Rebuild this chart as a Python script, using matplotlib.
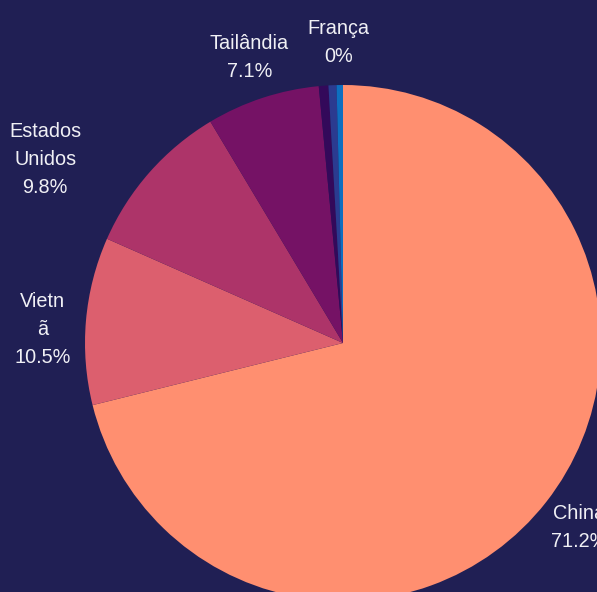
import numpy as np
import matplotlib.pyplot as plt

# fatias no sentido horário a partir do topo
paises = ['China', 'Vietnã', 'Estados Unidos', 'Tailândia', 'Outro1', 'Outro2', 'França']
valores = [71.2, 10.5, 9.8, 7.1, 0.6, 0.5, 0.4]
rotulos = ['China\n71.2%', 'Vietn\nã\n10.5%', 'Estados\nUnidos\n9.8%', 'Tailândia\n7.1%',
           '', '', 'França\n0%']
cores = ['#ff8f70', '#dc5f6e', '#ad3469', '#751265', '#33095a', '#2b3b90', '#0d6fc0']
fundo = '#201f54'

fig = plt.figure(figsize=(5.97, 5.92), dpi=100, facecolor=fundo)
ax = fig.add_axes([0, 0, 1, 1])
ax.set_facecolor(fundo)

ax.pie(valores, colors=cores, startangle=90, counterclock=False, radius=1,
       center=(0, 0), wedgeprops=dict(linewidth=0))

# posição dos rótulos pelo ângulo médio de cada fatia (alguns empurrados p/ fora)
acum = np.cumsum(valores) - np.array(valores) / 2
tot = sum(valores)
ajuste = {'Estados Unidos': (1.357, 148.3), 'Vietnã': (1.165, 177.5),
          'França': (1.163, 90.8)}
for i, txt in enumerate(rotulos):
    if not txt:
        continue
    dist, ang = 1.163, 90 - 360 * acum[i] / tot
    if paises[i] in ajuste:
        dist, ang = ajuste[paises[i]]
    ang = np.deg2rad(ang)
    x, y = dist * np.cos(ang), dist * np.sin(ang)
    ax.text(x, y, txt, ha='center', va='center', color='#f0f0f5',
            fontsize=14.3, family='Liberation Sans', linespacing=1.6)

ax.set_xlim(-343 / 258, (597 - 343) / 258)
ax.set_ylim(-249 / 258, 343 / 258)
ax.set_aspect('auto')
ax.axis('off')

fig.savefig('out.png', dpi=100, facecolor=fundo)
